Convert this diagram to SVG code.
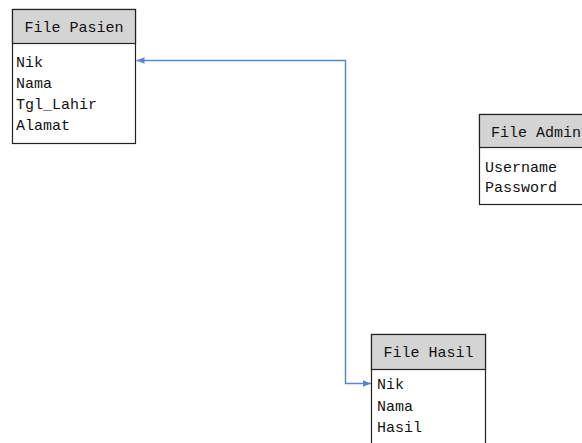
<svg xmlns="http://www.w3.org/2000/svg" width="582" height="443" viewBox="0 0 582 443">
<style>
.box{fill:#ffffff;stroke:#222222;stroke-width:1.2}
.hdr{fill:#d4d4d4;stroke:#222222;stroke-width:1.2}
.t{font-family:"Liberation Mono","DejaVu Sans Mono",monospace;font-size:15px;fill:#111111}
.c{fill:none;stroke:#5a87d2;stroke-width:1.5}
</style>
<defs>
<marker id="arr" viewBox="0 0 10 10" refX="10" refY="5" markerWidth="8" markerHeight="8" markerUnits="userSpaceOnUse" orient="auto-start-reverse">
<path d="M0,1 L10,5 L0,9 Z" fill="#5a87d2"/>
</marker>
</defs>
<rect width="582" height="443" fill="#ffffff"/>
<g id="connectors">
<path class="c" d="M136.5,60.5 H345.5 V383.5 H371" marker-start="url(#arr)" marker-end="url(#arr)"/>
</g>
<g id="file-pasien">
<rect class="box" x="12.5" y="9.5" width="123" height="134"/>
<rect class="hdr" x="12.5" y="9.5" width="123" height="34"/>
<text class="t" x="74" y="32" text-anchor="middle">File Pasien</text>
<text class="t" x="16" y="67">Nik</text>
<text class="t" x="16" y="88">Nama</text>
<text class="t" x="16" y="109">Tgl_Lahir</text>
<text class="t" x="16" y="130">Alamat</text>
</g>
<g id="file-admin">
<rect class="box" x="479.5" y="114.5" width="120" height="90"/>
<rect class="hdr" x="479.5" y="114.5" width="120" height="33"/>
<text class="t" x="491" y="137">File Admin</text>
<text class="t" x="485" y="172">Username</text>
<text class="t" x="485" y="192">Password</text>
</g>
<g id="file-hasil">
<rect class="box" x="371.5" y="334.5" width="114" height="120"/>
<rect class="hdr" x="371.5" y="334.5" width="114" height="35"/>
<text class="t" x="428.5" y="357" text-anchor="middle">File Hasil</text>
<text class="t" x="377" y="389">Nik</text>
<text class="t" x="377" y="410.5">Nama</text>
<text class="t" x="377" y="432">Hasil</text>
</g>
</svg>
